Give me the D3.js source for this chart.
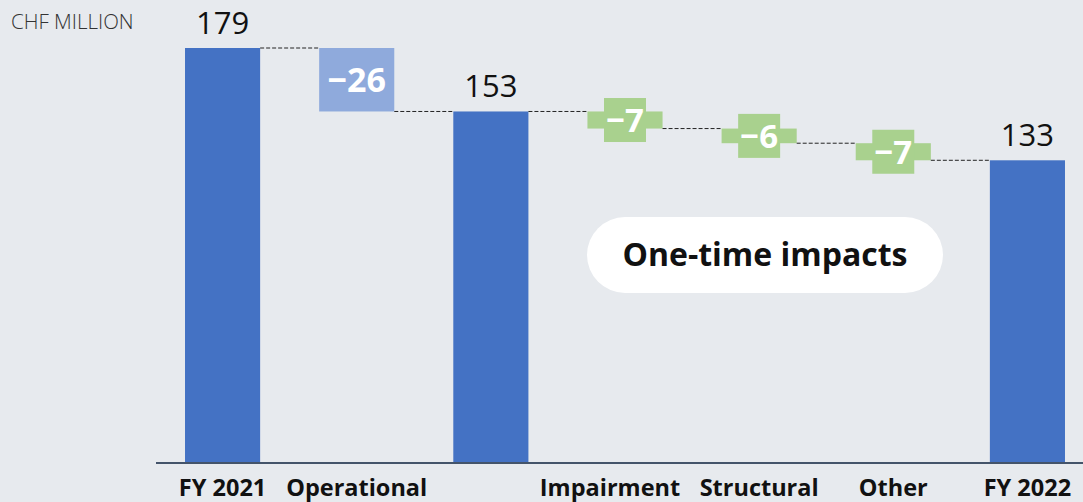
<!DOCTYPE html>
<html>
<head>
<meta charset="utf-8">
<script src="https://cdn.jsdelivr.net/npm/d3@7"></script>
<style>
  body { margin: 0; background: #e7eaee; }
  svg { display: block; font-family: "Open Sans", sans-serif; }
</style>
</head>
<body>
<svg></svg>
<script>
//////////////////     DATA
const categories = ["FY 2021", "Operational", "", "Impairment", "Structural", "Other", "FY 2022"]
const values = [179, -26, 153, -7, -6, -7, 133]
const kinds = ["total", "operational", "total", "oneTime", "oneTime", "oneTime", "total"]
const unitLabel = "CHF MILLION"
const noteText = "One-time impacts"

const width = 1083
const height = 502
const colors = { total: "#4472c4", operational: "#8faadc", oneTime: "#a9d18e" }

const svg = d3.select('svg')
  .attr("width", width)
  .attr("height", height)

svg.append("rect")
  .attr("width", width)
  .attr("height", height)
  .attr("fill", "#e7eaee")

// build waterfall steps (start / end of each bar)
let running = 0
const steps = values.map((v, i) => {
  let start, end
  if (kinds[i] === "total") {
    start = null
    end = v
  } else {
    start = running
    end = running + v
  }
  running = end
  return { i, name: categories[i], value: v, kind: kinds[i], start, end }
})

const xScale = d3.scaleBand()
  .domain(d3.range(categories.length))
  .range([155.5, 1094.5])
  .paddingInner(0.44)
  .paddingOuter(0.22)

// axis does not start at zero in the original
const yScale = d3.scaleLinear()
  .domain([9, 179])
  .range([463, 48])

const baseY = yScale.range()[0]

//////////////////     BARS
const barTop = d => d.kind === "total" ? yScale(d.end) : yScale(Math.max(d.start, d.end))
const barBottom = d => d.kind === "total" ? baseY : yScale(Math.min(d.start, d.end))

svg.selectAll('.bar').data(steps)
  .enter().append('rect')
    .attr('class', 'bar')
    .attr('x', d => xScale(d.i))
    .attr('y', barTop)
    .attr('width', xScale.bandwidth())
    .attr('height', d => barBottom(d) - barTop(d))
    .attr('fill', d => colors[d.kind])

// dashed connectors between bars
const links = steps.slice(0, -1).map((d, k) => ({ from: d, to: steps[k + 1] }))
svg.selectAll('.link').data(links)
  .enter().append('line')
    .attr('class', 'link')
    .attr('x1', d => xScale(d.from.i) + xScale.bandwidth())
    .attr('x2', d => xScale(d.to.i))
    .attr('y1', d => yScale(d.from.end))
    .attr('y2', d => yScale(d.from.end))
    .attr('stroke', '#222')
    .attr('stroke-width', 1)
    .attr('stroke-dasharray', '4,2')

//////////////////     AXIS
svg.append('line')
  .attr('x1', 156)
  .attr('x2', width)
  .attr('y1', baseY)
  .attr('y2', baseY)
  .attr('stroke', '#44546a')
  .attr('stroke-width', 2)

const labelShift = { "Impairment": -15 }
svg.selectAll('.cat').data(steps.filter(d => d.name !== ""))
  .enter().append('text')
    .attr('class', 'cat')
    .attr('x', d => xScale(d.i) + xScale.bandwidth() / 2 + (labelShift[d.name] || 0))
    .attr('y', 496)
    .attr('text-anchor', 'middle')
    .attr('font-size', 23.5)
    .attr('font-weight', 700)
    .attr('fill', '#111')
    .text(d => d.name)

//////////////////     VALUE LABELS
const fmt = v => v < 0 ? "\u2212" + Math.abs(v) : String(v)

svg.selectAll('.total-label').data(steps.filter(d => d.kind === "total"))
  .enter().append('text')
    .attr('class', 'total-label')
    .attr('x', d => xScale(d.i) + xScale.bandwidth() / 2)
    .attr('y', d => yScale(d.end) - 14)
    .attr('text-anchor', 'middle')
    .attr('font-size', 31)
    .attr('fill', '#111')
    .text(d => fmt(d.value))

// green label boxes sit on top of the small one-time bars
const boxW = 42, boxH = 44
const oneTime = steps.filter(d => d.kind === "oneTime")
svg.selectAll('.label-box').data(oneTime)
  .enter().append('rect')
    .attr('class', 'label-box')
    .attr('x', d => xScale(d.i) + xScale.bandwidth() / 2 - boxW / 2)
    .attr('y', d => (barTop(d) + barBottom(d)) / 2 - boxH / 2)
    .attr('width', boxW)
    .attr('height', boxH)
    .attr('fill', colors.oneTime)

svg.selectAll('.delta-label').data(steps.filter(d => d.kind !== "total"))
  .enter().append('text')
    .attr('class', 'delta-label')
    .attr('x', d => xScale(d.i) + xScale.bandwidth() / 2)
    .attr('y', d => (barTop(d) + barBottom(d)) / 2)
    .attr('dy', '0.36em')
    .attr('text-anchor', 'middle')
    .attr('font-size', d => d.kind === "oneTime" ? 33 : 34)
    .attr('font-weight', 700)
    .attr('fill', '#fff')
    .text(d => fmt(d.value))

//////////////////     UNIT + NOTE
svg.append('text')
  .attr('x', 11)
  .attr('y', 29)
  .attr('font-size', 20.5)
  .attr('font-weight', 300)
  .attr('fill', '#333')
  .text(unitLabel)

const note = svg.append('g').attr('transform', 'translate(587,217)')
note.append('rect')
  .attr('width', 356)
  .attr('height', 76)
  .attr('rx', 38)
  .attr('fill', '#fff')
note.append('text')
  .attr('x', 178)
  .attr('y', 49)
  .attr('text-anchor', 'middle')
  .attr('font-size', 32)
  .attr('font-weight', 700)
  .attr('fill', '#111')
  .text(noteText)
</script>
</body>
</html>
